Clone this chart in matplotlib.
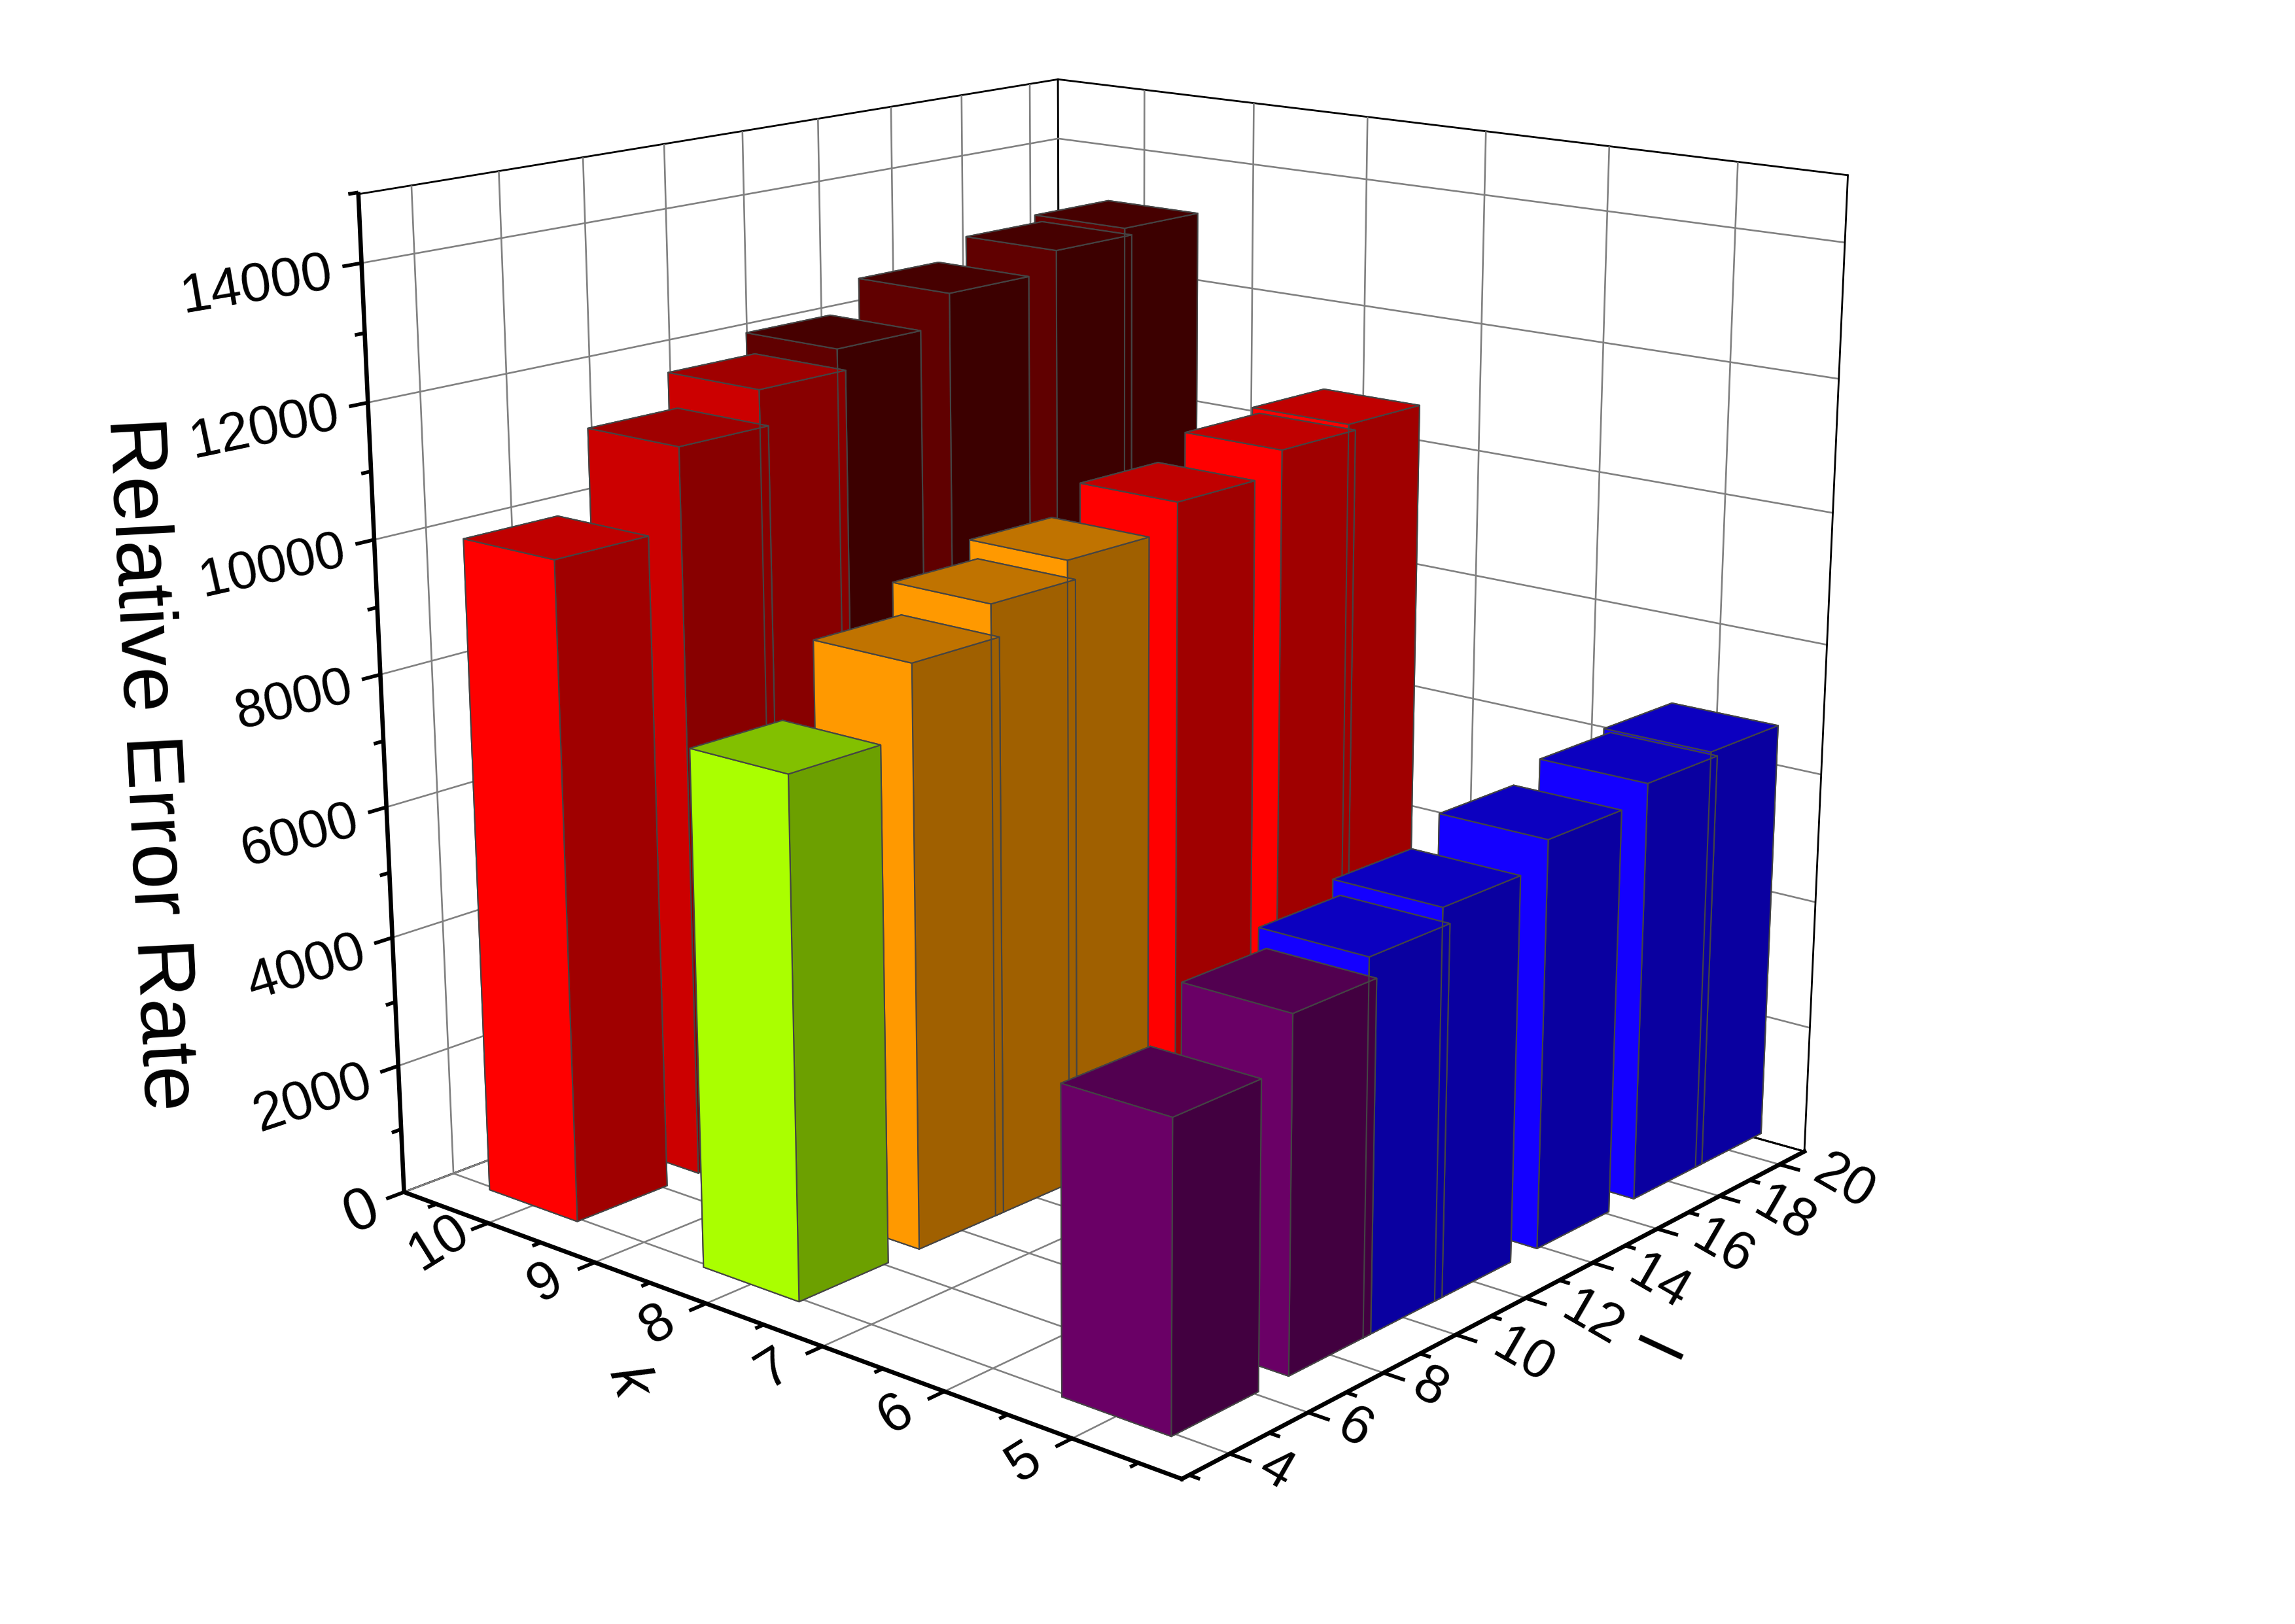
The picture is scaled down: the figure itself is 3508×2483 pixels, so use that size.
import matplotlib
matplotlib.use("Agg")
import matplotlib.pyplot as plt
import numpy as np
from mpl_toolkits.mplot3d import proj3d

plt.rcParams["font.family"] = ["Liberation Sans", "DejaVu Sans"]
plt.rcParams["grid.color"] = "#808080"
plt.rcParams["grid.linewidth"] = 0.75

# bar positions and heights
k_values = [10, 8, 5]
l_values = [5, 8, 10, 12, 15, 18, 20]
heights_k10 = [9990, 11190, 11760, 12110, 12590, 12910, 13040]
heights_k8 = [7730, 8770, 9290, 9610, 10020, 10380, 10500]
heights_k5 = [4460, 5190, 5540, 5820, 6190, 6440, 6540]

k_ticks = [10, 9, 8, 7, 6, 5]
l_ticks = [4, 6, 8, 10, 12, 14, 16, 18, 20]
z_ticks = [0, 2000, 4000, 6000, 8000, 10000, 12000, 14000]

# colour levels: upper bound, front face, side face, top face
levels = [
    (5500, "#6A0066", "#420040", "#520050"),
    (7000, "#1400FF", "#0A00A0", "#0C00C0"),
    (8500, "#AAFF00", "#6CA000", "#82C000"),
    (9900, "#FF9900", "#A06000", "#C07300"),
    (11000, "#FF0000", "#A00000", "#C00000"),
    (12000, "#CC0000", "#880000", "#A00000"),
    (15000, "#600000", "#3C0000", "#460000"),
]

k_far, k_near = 10.819, 4.177
l_min, l_max = 2.821, 20.847
z_max = 14976
half_k, half_l = 0.42, 1.105
W, H = 3508, 2483
scale, tx, ty = 14227.66, 1700.2, 1059.96
edge = "#444444"

fig = plt.figure(figsize=(W / 250, H / 250), dpi=250)
ax = fig.add_subplot(projection="3d", computed_zorder=False)
ax.view_init(elev=15.792, azim=-49.638)
ax.set_proj_type("persp", focal_length=0.4856)
ax.set_box_aspect((1.0021, 0.9953, 1.0))

# back to front, so the bars cover each other the right way
order = 10
for k, heights in zip(k_values, [heights_k10, heights_k8, heights_k5]):
    for i in reversed(range(len(l_values))):
        l, h = l_values[i], heights[i]
        level = next(v for v in levels if h < v[0])
        front, side, top = level[1], level[2], level[3]
        ax.bar3d(k - half_k, l - half_l, 0, 2 * half_k, 2 * half_l, h,
                 color=[top, top, front, side, side, side], shade=False,
                 edgecolor=edge, linewidth=0.6, zorder=order)
        # the corner of an overlapping neighbour shows through in the picture
        if i < len(l_values) - 1 and l_values[i + 1] - l < 2 * half_l:
            y = l_values[i + 1] - half_l
            ax.plot([k - half_k, k - half_k], [y, y], [0, heights[i + 1]], color=edge, linewidth=0.6,
                    zorder=order + 0.5)
        order += 1

ax.set_xticks(k_ticks)
ax.set_yticks(l_ticks)
ax.set_zticks(z_ticks)
ax.set_xticklabels([])
ax.set_yticklabels([])
ax.set_zticklabels([])
ax.tick_params(color=(0, 0, 0, 0))
for axis in (ax.xaxis, ax.yaxis, ax.zaxis):
    axis.line.set_visible(False)
    axis.set_pane_color((1, 1, 1, 1))
    axis.pane.set_edgecolor("black")
    axis.pane.set_linewidth(0.8)

# edges of the walls that the panes leave open
ax.plot([k_near, k_near], [l_max, l_max], [0, z_max], color="black", linewidth=0.8, zorder=1)
ax.plot([k_far, k_near], [l_max, l_max], [0, 0], color="black", linewidth=0.8, zorder=1)

# thick axes, ticks pointing out of the box along the floor
axis_style = dict(color="black", linewidth=1.9, solid_capstyle="projecting", zorder=5)
tick_style = dict(color="black", linewidth=1.6, solid_capstyle="butt", zorder=5)
ax.plot([k_far, k_near], [l_min, l_min], [0, 0], **axis_style)
ax.plot([k_near, k_near], [l_min, l_max], [0, 0], **axis_style)
ax.plot([k_far, k_far], [l_min, l_min], [0, z_max], **axis_style)

for t in np.arange(4.5, 11, 0.5):
    d = 0.4 if t == int(t) else 0.2
    ax.plot([t, t], [l_min, l_min - d], [0, 0], **tick_style)
for t in np.arange(3, 21, 1):
    d = 0.16 if t % 2 == 0 else 0.08
    ax.plot([k_near, k_near - d], [t, t], [0, 0], **tick_style)
for t in np.arange(0, 16000, 1000):
    d = 0.42 if t % 2000 == 0 else 0.22
    ax.plot([k_far, k_far], [l_min, l_min - d], [t, t], **tick_style)

ax.set_xlim(k_far, k_near, view_margin=0)
ax.set_ylim(l_min, l_max, view_margin=0)
ax.set_zlim(0, z_max, view_margin=0)

M = ax.get_proj()


def label(x, y, z, s, size, rot, ha="center"):
    u, v, _ = proj3d.proj_transform(x, y, z, M)
    ax.text2D(u, v, s, transform=ax.transData, fontsize=size, rotation=rot, ha=ha, va="center",
              rotation_mode="anchor")


for t in k_ticks:
    label(t, l_min - 1.15, 0, str(t), 24, 32)
for t in l_ticks:
    d = 0.34 if t < 10 else 0.5
    label(k_near - d, t, 0, str(t), 24, -30)
z_rot = [22, 18.4, 17, 16, 14, 12.7, 11.8, 9.7]
z_size = [26, 24, 24, 23.7, 23.6, 23.5, 24, 24.3]
for t, r, s in zip(z_ticks, z_rot, z_size):
    label(k_far, l_min - 0.65, t - 60, str(t), s, r, ha="right")

# put the axes so the projected box lands where it does in the picture
xl, yl = ax.viewLim.intervalx, ax.viewLim.intervaly
left = tx + scale * xl[0]
bottom = ty - scale * yl[0]
ax.set_position([left / W, 1 - bottom / H, scale * (xl[1] - xl[0]) / W, scale * (yl[1] - yl[0]) / H])

fig.text(227 / W, 1 - 1168 / H, "Relative Error Rate", fontsize=36, rotation=-87,
         ha="center", va="center", rotation_mode="anchor")
fig.text(960 / W, 1 - 2113 / H, "k", fontsize=26, style="italic", rotation=-72,
         ha="center", va="center", rotation_mode="anchor")
fig.text(2545 / W, 1 - 2058 / H, "l", fontsize=29, rotation=65,
         ha="center", va="center", rotation_mode="anchor")

fig.savefig("out.png")
